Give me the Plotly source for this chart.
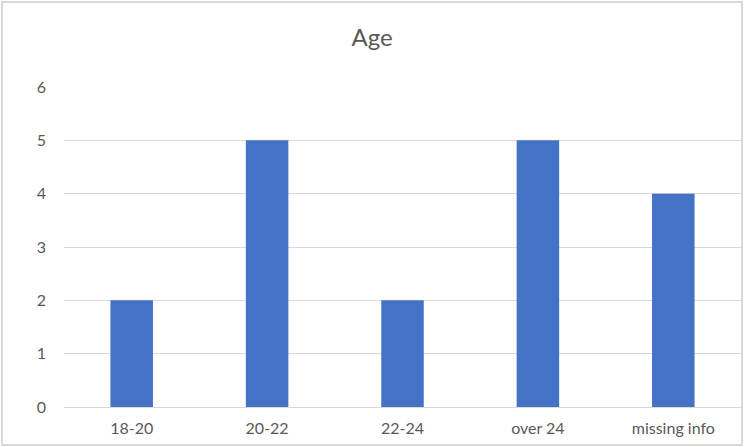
import plotly.graph_objects as go

categories = ["18-20", "20-22", "22-24", "over 24", "missing info"]
counts = [2, 5, 2, 5, 4]
y_ticks = [0, 1, 2, 3, 4, 5, 6]

W, H = 744, 447
L, R, T, B = 64, 3, 87, 40
pw, ph = W - L - R, H - T - B

fig = go.Figure(go.Bar(x=categories, y=counts, marker=dict(color="#4472C4", line=dict(width=0)), width=0.314))

def px2x(px):
    return (px - L) / pw

def py2y(py):
    return (H - B - py) / ph

fig.add_shape(type="rect", xref="paper", yref="paper",
              x0=px2x(2), x1=px2x(742), y0=py2y(445), y1=py2y(2),
              line=dict(color="#D9D9D9", width=2), fillcolor="rgba(0,0,0,0)", layer="above")

fig.update_layout(
    width=W, height=H,
    margin=dict(l=L, r=R, t=T, b=B),
    paper_bgcolor="white", plot_bgcolor="white",
    font=dict(family="Lato, Open Sans, sans-serif", color="#595959", size=16),
    title=dict(text="Age", x=(372 - L) / pw, xref="paper", xanchor="center", y=1 - 38 / H, yanchor="middle",
               font=dict(size=24, color="#595959")),
    showlegend=False,
    xaxis=dict(showgrid=False, showline=True, linecolor="#D9D9D9", linewidth=1,
               ticks="", tickfont=dict(size=16, color="#595959"), ticklabelstandoff=7),
    yaxis=dict(range=[0, 6], tickvals=y_ticks, showgrid=True, gridcolor="#D9D9D9", gridwidth=1,
               zeroline=False, showline=False, ticks="", ticklabelstandoff=17,
               tickfont=dict(size=16, color="#595959")),
)

fig.write_html("out.html")
